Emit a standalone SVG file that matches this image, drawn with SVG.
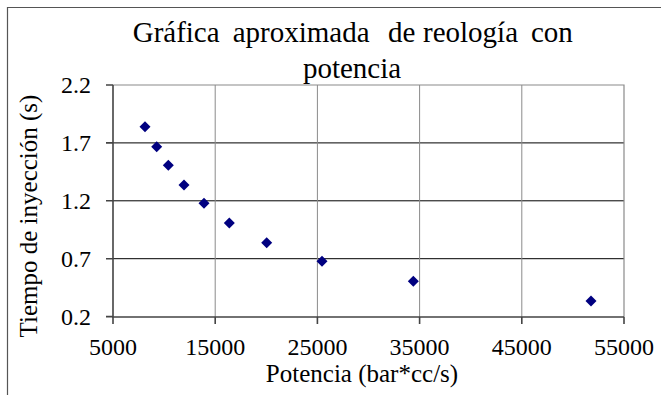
<svg xmlns="http://www.w3.org/2000/svg" xmlns:xlink="http://www.w3.org/1999/xlink" width="661" height="395" viewBox="0 0 661 395">
<style>
text{font-family:"Liberation Serif","Times New Roman",serif;fill:#000}
.title{font-size:29px}
.tick{font-size:24px}
.axt{font-size:25px}
.hg{stroke:#000;stroke-width:1}
.vg{stroke:#8a8a8a;stroke-width:1}
.ax{stroke:#444;stroke-width:1.6;fill:none}
.bd{stroke:#8a8a8a;stroke-width:1.2;fill:none}
.pt{fill:#000080}
</style>
<defs>
<path id="d" d="M0,-5.5 L5.5,0 L0,5.5 L-5.5,0 Z"/>
</defs>
<rect width="661" height="395" fill="#fff"/>
<g id="frame">
<path d="M7.5,395 V7.5 H661" fill="none" stroke="#555" stroke-width="1.2"/>
</g>
<g id="title" class="title">
<text y="42"><tspan x="132.7">Gráfica</tspan><tspan x="232.7">aproximada</tspan><tspan x="388">de</tspan><tspan x="423">reología</tspan><tspan x="531">con</tspan></text>
<text x="352" y="78" text-anchor="middle">potencia</text>
</g>
<g id="grid">
<line class="hg" x1="113" y1="142.9" x2="624" y2="142.9"/>
<line class="hg" x1="113" y1="200.8" x2="624" y2="200.8"/>
<line class="hg" x1="113" y1="258.7" x2="624" y2="258.7"/>
<line class="vg" x1="215.2" y1="85" x2="215.2" y2="317"/>
<line class="vg" x1="317.4" y1="85" x2="317.4" y2="317"/>
<line class="vg" x1="419.6" y1="85" x2="419.6" y2="317"/>
<line class="vg" x1="521.8" y1="85" x2="521.8" y2="317"/>
<path class="bd" d="M113,85 H624 V317"/>
</g>
<g id="axes">
<path class="ax" d="M113,85 V317 H624"/>
<path class="ax" d="M106,85 H113 M106,142.9 H113 M106,200.8 H113 M106,258.7 H113 M106,316.6 H113"/>
<path class="ax" d="M113,317 V324 M215.2,317 V324 M317.4,317 V324 M419.6,317 V324 M521.8,317 V324 M624,317 V324"/>
</g>
<g id="yticks" class="tick" text-anchor="end">
<text x="91" y="93">2.2</text>
<text x="91" y="151">1.7</text>
<text x="91" y="209">1.2</text>
<text x="91" y="267">0.7</text>
<text x="91" y="325">0.2</text>
</g>
<g id="xticks" class="tick" text-anchor="middle">
<text x="113" y="354.5">5000</text>
<text x="215.2" y="354.5">15000</text>
<text x="317.4" y="354.5">25000</text>
<text x="419.6" y="354.5">35000</text>
<text x="521.8" y="354.5">45000</text>
<text x="624" y="354.5">55000</text>
</g>
<g id="axis-titles" class="axt">
<text x="362" y="381.5" text-anchor="middle">Potencia (bar*cc/s)</text>
<text transform="translate(37,216) rotate(-90)" text-anchor="middle">Tiempo de inyección (s)</text>
</g>
<g id="points" class="pt">
<use xlink:href="#d" x="145" y="126.7"/>
<use xlink:href="#d" x="156.7" y="146.7"/>
<use xlink:href="#d" x="168.3" y="165.3"/>
<use xlink:href="#d" x="184" y="185"/>
<use xlink:href="#d" x="204" y="203.3"/>
<use xlink:href="#d" x="229.3" y="223"/>
<use xlink:href="#d" x="266.7" y="242.7"/>
<use xlink:href="#d" x="322" y="261.3"/>
<use xlink:href="#d" x="413.3" y="281.2"/>
<use xlink:href="#d" x="591" y="301"/>
</g>
</svg>
